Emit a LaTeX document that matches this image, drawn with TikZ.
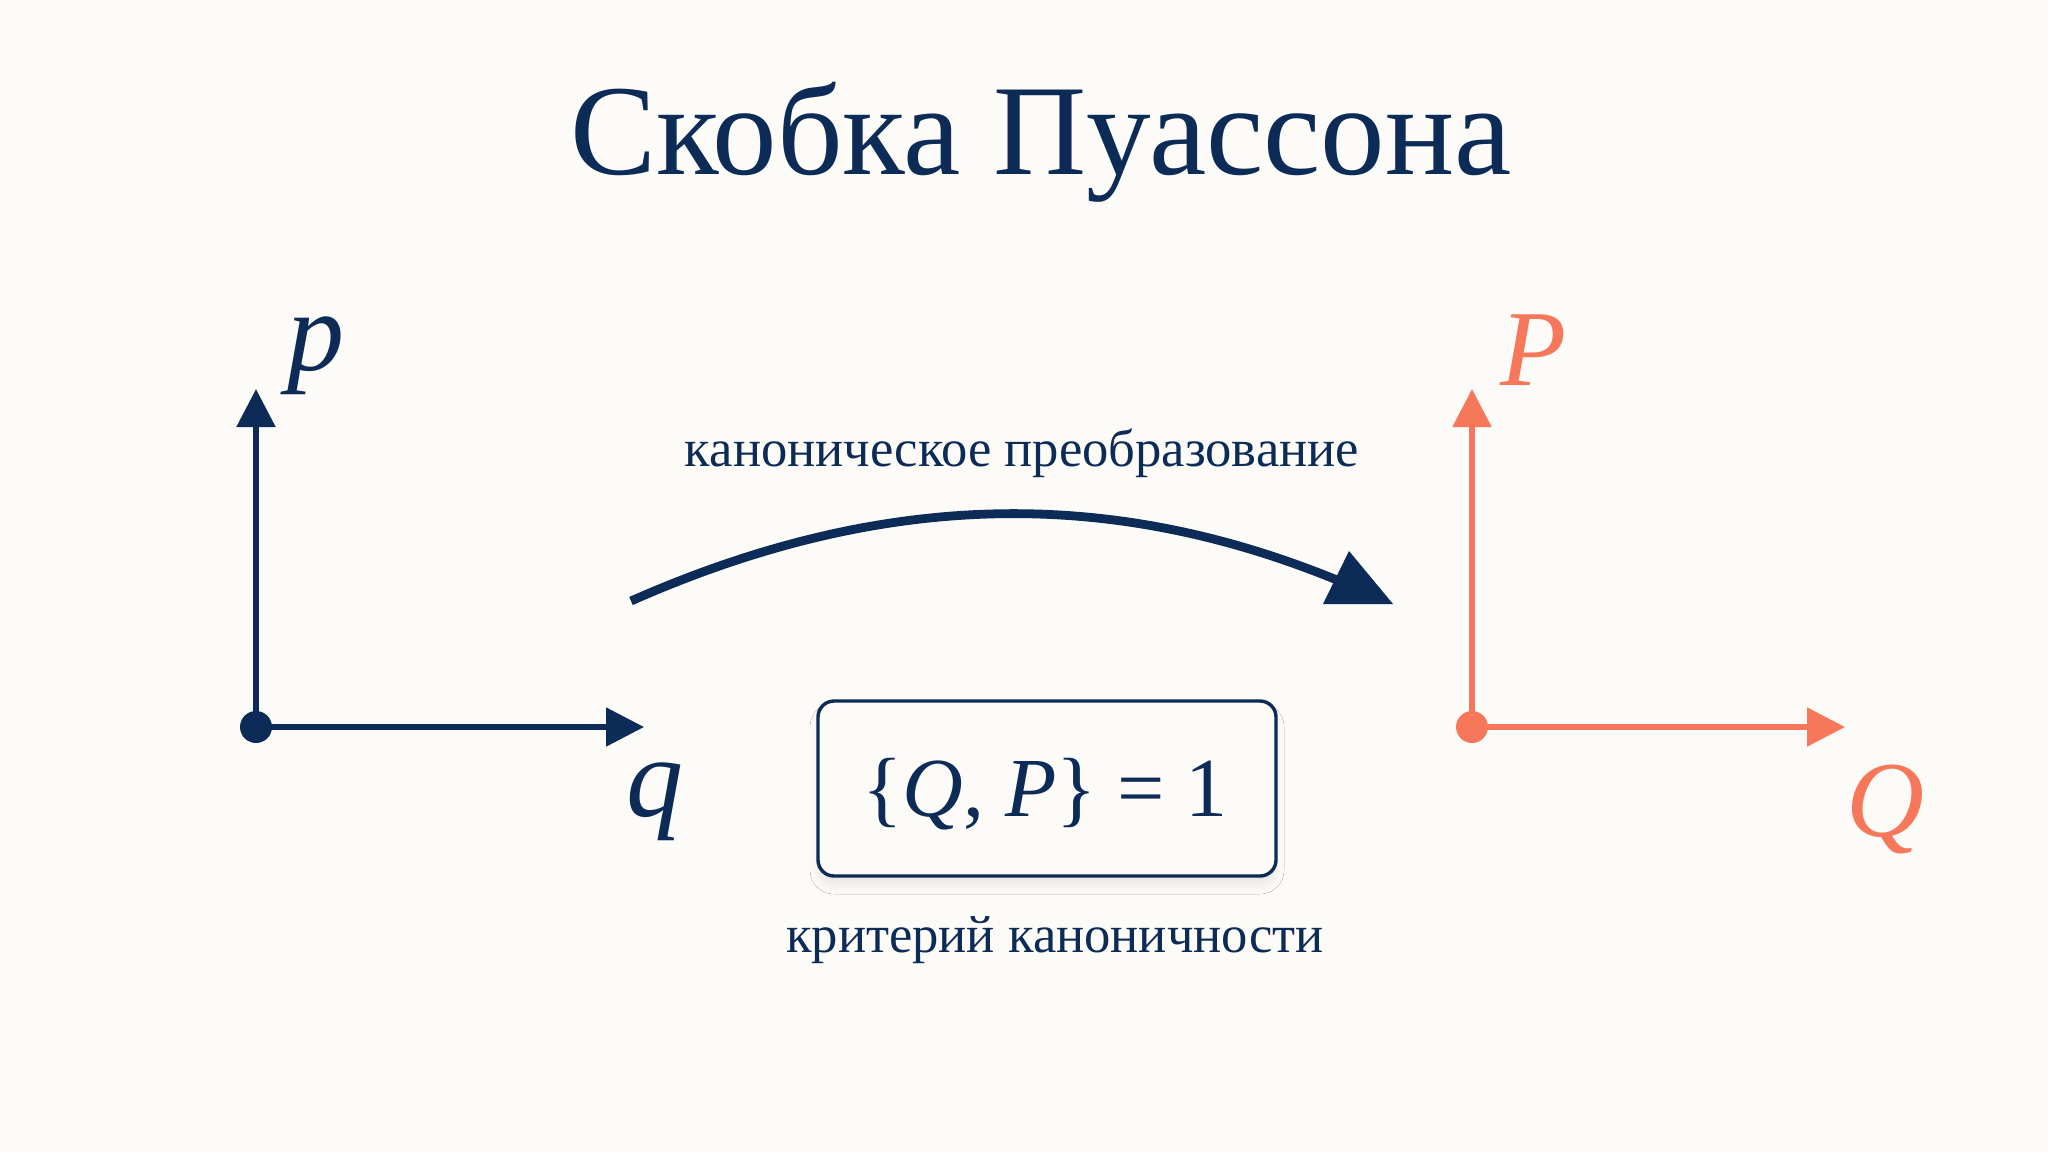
\documentclass[tikz,border=0pt]{standalone}
\usepackage{fontspec}
\setmainfont{Liberation Serif}
\usetikzlibrary{arrows.meta,shadows.blur}
\definecolor{navy}{HTML}{0C2B56}
\definecolor{salmon}{HTML}{F7775A}
\definecolor{bg}{HTML}{FCFBF7}
\begin{document}
\begin{tikzpicture}[x=0.5pt,y=-0.5pt,
  axis/.style={line width=2.6pt,-{Triangle[length=19pt,width=19pt]}},
  lbl/.style={inner sep=0pt,anchor=base,font=\fontsize{26.3}{30}\selectfont,text=navy},
  varlbl/.style={inner sep=0pt,anchor=base},
  dotnode/.style={circle,inner sep=0pt,minimum size=16pt}]
\useasboundingbox (0,0) rectangle (2048,1152);
\fill[bg] (0,0) rectangle (2048,1152);
% title
\node[varlbl,text=navy,font=\fontsize{64.5}{72}\selectfont] (title) at (1041,174) {Скобка Пуассона};
% left axes
\coordinate (o1) at (256,727);
\coordinate (p1) at (256,389);
\coordinate (q1) at (644,727);
\draw[axis,navy] (o1) -- (p1);
\draw[axis,navy] (o1) -- (q1);
\node[dotnode,fill=navy] (d1) at (o1) {};
\node[varlbl,text=navy,font=\fontsize{57}{60}\selectfont\itshape] (plab) at (316,370) {p};
\node[varlbl,text=navy,font=\fontsize{57}{60}\selectfont\itshape] (qlab) at (655,816) {q};
% right axes
\coordinate (o2) at (1472,727);
\coordinate (p2) at (1472,389);
\coordinate (q2) at (1845,727);
\draw[axis,salmon] (o2) -- (p2);
\draw[axis,salmon] (o2) -- (q2);
\node[dotnode,fill=salmon] (d2) at (o2) {};
\node[varlbl,text=salmon,font=\fontsize{54}{60}\selectfont\itshape] (Plab) at (1533,385) {P};
\node[varlbl,text=salmon,font=\fontsize{54}{60}\selectfont\itshape] (Qlab) at (1885,836) {Q};
% transformation arrow
\coordinate (cs) at (631,601);
\coordinate (ce) at (1365,592);
\draw[navy,line width=4.4pt] (cs) .. controls (900,482) and (1135,490) .. (ce);
\fill[navy] (1349,551) -- (1323,604) -- (1393,604) -- cycle;
\node[lbl] (l1) at (1022,466) {каноническое преобразование};
% box
\node[draw=navy,line width=1.7pt,rounded corners=8pt,fill=bg,
  minimum width=229pt,minimum height=87.5pt,inner sep=0pt,
  blur shadow={shadow xshift=0pt,shadow yshift=-5pt,shadow blur radius=4pt,shadow opacity=7}] (box) at (1047,788.5) {};
\node[varlbl,text=navy,font=\fontsize{42}{48}\selectfont] (formula) at (1045,816) {\{\textit{Q}, \textit{P}\} = 1};
\node[lbl] (l2) at (1055,952) {критерий каноничности};
\end{tikzpicture}
\end{document}
